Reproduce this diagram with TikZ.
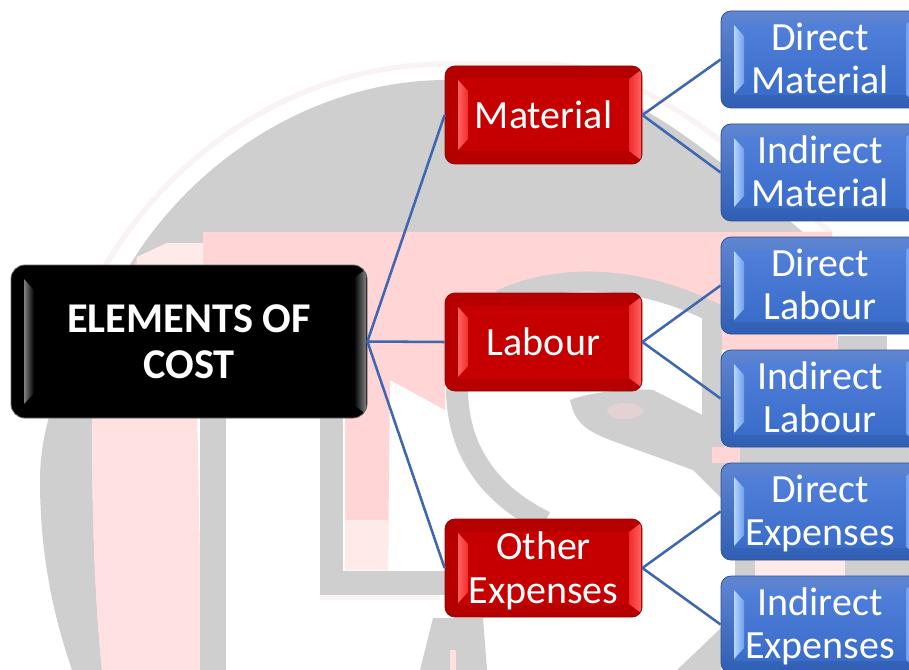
\documentclass[tikz,border=0pt]{standalone}
\usepackage{fontspec}
\setmainfont{Carlito}
\definecolor{wmgray}{HTML}{CFCFCF}
\definecolor{wmhalo}{HTML}{FAF3F3}
\definecolor{wmpink}{HTML}{FFD5D5}
\definecolor{wmlight}{HTML}{FFE1E1}
\definecolor{wmpale}{HTML}{FFEAEA}
\definecolor{linkblue}{HTML}{3F66B0}
\definecolor{blueedge}{HTML}{2F528F}
\definecolor{bluetop}{HTML}{5F86D2}
\definecolor{bluebot}{HTML}{2F5EB4}
\definecolor{bluefacea}{HTML}{5180DA}
\definecolor{bluefaceb}{HTML}{3A6CCA}
\definecolor{bluebev}{HTML}{B4D6FF}
\definecolor{bluebevb}{HTML}{6FA0EC}
\definecolor{rededge}{HTML}{8A0A0A}
\definecolor{redband}{HTML}{B60000}
\definecolor{redface}{HTML}{C60000}
\definecolor{redbev}{HTML}{FF6060}
\definecolor{redbevb}{HTML}{F02C2C}
\newlength{\pxu}\setlength{\pxu}{0.75pt}
\newcommand{\lowline}[2]{\smash{#2}\rule[-#1pt]{0pt}{0pt}}
\tikzset{
  x=0.75pt,y=-0.75pt,
  link/.style={draw=linkblue,line width=1.9pt},
  bevelbox/.style n args={9}{
    rounded corners=#1*\pxu, inner sep=0pt, align=center, text=white,
    minimum width=#2*\pxu, minimum height=#3*\pxu,
    draw=#4, line width=0.6pt, top color=#5, bottom color=#6,
    path picture={
      \coordinate (nw) at (path picture bounding box.north west);
      \coordinate (ne) at (path picture bounding box.north east);
      \coordinate (sw) at (path picture bounding box.south west);
      \coordinate (se) at (path picture bounding box.south east);
      \begin{scope}[sharp corners]
      \shade[#9] ([xshift=13\pxu,yshift=-13\pxu]nw) -- ([xshift=-13\pxu,yshift=-13\pxu]ne)
        -- ([xshift=-13\pxu,yshift=13\pxu]se) -- ([xshift=13\pxu,yshift=13\pxu]sw) -- cycle;
      \shade[left color=#7,right color=#8]
        ([xshift=13\pxu,yshift=-14\pxu]nw) -- ([xshift=23\pxu,yshift=-25\pxu]nw)
        -- ([xshift=23\pxu,yshift=25\pxu]sw) -- ([xshift=13\pxu,yshift=14\pxu]sw) -- cycle;
      \shade[left color=#8,right color=#7]
        ([xshift=-1\pxu,yshift=-4\pxu]ne) -- ([xshift=-13\pxu,yshift=-13\pxu]ne)
        -- ([xshift=-13\pxu,yshift=13\pxu]se) -- ([xshift=-1\pxu,yshift=4\pxu]se) -- cycle;
      \end{scope}
    }
  },
  rootbox/.style={bevelbox={14}{356}{153}{black!60}{black}{black}{black!50}{black}{top color=black,bottom color=black},
    font=\bfseries\fontsize{31.8}{34.5}\selectfont},
  redbox/.style={bevelbox={10}{197}{98}{rededge}{redband}{redband}{redbev}{redbevb}{top color=redface,bottom color=redface},
    font=\fontsize{30}{33}\selectfont},
  bluebox/.style={bevelbox={10}{198}{97}{blueedge}{bluetop}{bluebot}{bluebev}{bluebevb}{top color=bluefacea,bottom color=bluefaceb},
    font=\fontsize{30}{32.3}\selectfont},
}
\begin{document}
\begin{tikzpicture}
\useasboundingbox (0,0) rectangle (909,670);
\clip (0,0) rectangle (909,670);
\fill[white] (0,0) rectangle (909,670);
% --- faded watermark ---
\begin{scope}
\draw[wmhalo,line width=4pt,line cap=round] (100,275) .. controls (170,150) and (300,64) .. (447,64) -- (550,64) .. controls (650,70) and (740,155) .. (830,232);
\fill[wmgray] (72,670) .. controls (55,620) and (40,560) .. (40,480)
  .. controls (40,400) and (85,330) .. (130,265)
  .. controls (190,165) and (310,80) .. (447,80) -- (550,78)
  .. controls (640,85) and (730,170) .. (805,234) -- (203,234) -- (203,243) -- (167,243) -- (137,257) -- (92,420)
  .. controls (92,520) and (95,600) .. (102,670) -- cycle;
\fill[wmpink] (203,232) -- (832,232) -- (838,350) -- (722,350) -- (722,310)
  .. controls (640,270) and (560,265) .. (500,290) -- (445,350) -- (445,410) -- (390,380)
  -- (388,570) -- (345,570) -- (345,418) -- (197,418) -- (202,670) -- (102,670)
  .. controls (95,600) and (92,520) .. (92,420) -- (137,257) -- (167,243) -- (203,243) -- cycle;
\fill[wmlight] (92,418) .. controls (92,520) and (95,600) .. (102,670) -- (202,670) -- (197,418) -- cycle;
\fill[wmpale] (345,520) rectangle (388,570);
\fill[wmpale] (137,257) -- (167,243) -- (203,243) -- (203,266) -- (137,266) -- cycle;
\fill[wmgray] (200,418) rectangle (226,670);
\fill[wmgray] (320,400) rectangle (343,595);
\fill[wmgray] (320,571) rectangle (450,595);
\fill[wmhalo] (320,595) rectangle (440,600);
\draw[wmgray,line width=16.5pt] (457,388) .. controls (457,440) and (480,490) .. (545,522);
\draw[wmgray,line width=15pt] (500,300) .. controls (560,272) and (640,276) .. (712,312) -- (712,430);
\fill[wmgray] (570,400) .. controls (590,392) and (630,388) .. (653,390) -- (722,425) -- (735,512)
  -- (693,470) -- (610,440) .. controls (590,432) and (575,425) .. (570,400) -- cycle;
\fill[wmpink!45!wmgray] (625,411) ellipse (18 and 8);
\fill[wmgray] (433,618) -- (483,618) -- (487,670) -- (420,670) -- cycle;
\fill[wmlight] (450,650) rectangle (456,670);
\fill[wmgray] (677,670) -- (721,628) -- (721,670) -- cycle;
\fill[wmgray] (838,336) rectangle (887,350);
\fill[wmpink] (712,447) rectangle (740,463);
\fill[wmgray] (740,447) rectangle (909,463);
\fill[wmgray] (735,560) rectangle (755,576);
\fill[wmpale] (755,560) rectangle (845,576);
\fill[wmgray] (845,560) rectangle (909,576);
\end{scope}
% --- nodes ---
\node[rootbox] (root) at (189,341.5) {ELEMENTS OF\\COST};
\node[redbox] (mat) at (543.5,115) {Material};
\node[redbox] (lab) at (543.5,342) {Labour};
\node[redbox] (oth) at (543.5,568) {Other\\\lowline{1.2}{Expenses}};
\node[bluebox] (dm) at (820,59.5) {Direct\\\lowline{2.2}{Material}};
\node[bluebox] (im) at (820,172.5) {Indirect\\\lowline{2.2}{Material}};
\node[bluebox] (dl) at (820,285.5) {Direct\\\lowline{2.2}{Labour}};
\node[bluebox] (il) at (820,398.5) {Indirect\\\lowline{2.2}{Labour}};
\node[bluebox] (de) at (820,511.5) {Direct\\\lowline{2.2}{Expenses}};
\node[bluebox] (ie) at (820,624.5) {Indirect\\\lowline{2.2}{Expenses}};
% --- connectors ---
\draw[link] (root.east) -- (mat.west);
\draw[link] (root.east) -- (lab.west);
\draw[link] (root.east) -- (oth.west);
\draw[link] (mat.east) -- (dm.west);
\draw[link] (mat.east) -- (im.west);
\draw[link] (lab.east) -- (dl.west);
\draw[link] (lab.east) -- (il.west);
\draw[link] (oth.east) -- (de.west);
\draw[link] (oth.east) -- (ie.west);
\end{tikzpicture}
\end{document}
